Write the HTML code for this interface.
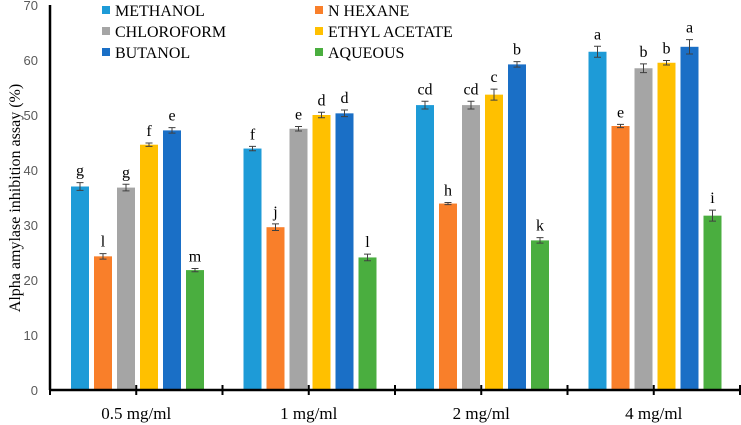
<!DOCTYPE html>
<html><head><meta charset="utf-8"><style>
body{margin:0;background:#fff}
svg{display:block}
.tk{font-family:"Liberation Sans",sans-serif;font-size:13px;fill:#595959}
.sr{font-family:"Liberation Serif",serif;fill:#000}
</style></head><body>
<svg id="c" width="741" height="425" xmlns="http://www.w3.org/2000/svg"></svg>
<script>
const categories=["0.5 mg/ml","1 mg/ml","2 mg/ml","4 mg/ml"];
const seriesNames=["METHANOL","N HEXANE","CHLOROFORM","ETHYL ACETATE","BUTANOL","AQUEOUS"];
const colors=["#1E9BD7","#F97F2A","#A5A5A5","#FFC000","#1A6FC6","#4AAE3F"];
const methanol=[37,43.9,51.8,61.5];
const hexane=[24.3,29.6,33.9,48];
const chloroform=[36.8,47.5,51.8,58.5];
const ethyl=[44.6,50,53.7,59.5];
const butanol=[47.2,50.3,59.2,62.4];
const aqueous=[21.8,24.1,27.2,31.7];
const errors=[[0.7,0.4,0.7,1.0],[0.5,0.6,0.2,0.3],[0.6,0.4,0.7,0.8],[0.3,0.5,1.0,0.4],[0.5,0.6,0.5,1.3],[0.3,0.6,0.5,1.0]];
const letters=[["g","f","cd","a"],["l","j","h","e"],["g","e","cd","b"],["f","d","c","b"],["e","d","b","a"],["m","l","k","i"]];
const yTicks=[0,10,20,30,40,50,60,70];
const series=[methanol,hexane,chloroform,ethyl,butanol,aqueous];
const svg=document.getElementById('c');const NS="http://www.w3.org/2000/svg";
function mk(t,a,p){const e=document.createElementNS(NS,t);for(const k in a)e.setAttribute(k,a[k]);(p||svg).appendChild(e);return e;}
const x0=50,pitch=172.5,y0=390,ppu=5.5;
const y=v=>y0-v*ppu;
const bx=(c,s)=>x0+c*pitch+21+s*23;
yTicks.forEach(t=>{const e=mk('text',{x:38,y:y(t)+5,'text-anchor':'end',class:'tk'});e.textContent=t;

});
series.forEach((arr,s)=>{arr.forEach((v,c)=>{
const r=mk('rect',{x:bx(c,s),y:y(v),width:18,height:v*ppu,fill:colors[s]});


const cx=bx(c,s)+9,e=errors[s][c];
const g=mk('path',{d:`M${cx} ${y(v+e)}V${y(v-e)}M${cx-3.5} ${y(v+e)}h7M${cx-3.5} ${y(v-e)}h7`,stroke:'#404040','stroke-width':1,fill:'none'});


const l=mk('text',{x:cx,y:y(v+e)-7,'text-anchor':'middle',class:'sr','font-size':16,'font-family':'Liberation Serif, serif'});l.textContent=letters[s][c];


});});
const ax=mk('path',{d:`M${x0} 5V${y0}M${x0} ${y0}H741`,stroke:'#000','stroke-width':2.5,fill:'none'});


for(let i=0;i<=8;i++){const t=mk('line',{x1:x0+i*pitch/2,x2:x0+i*pitch/2,y1:y0-5,y2:y0+5,stroke:'#000','stroke-width':2});

}
categories.forEach((c,i)=>{const e=mk('text',{x:x0+(i+0.5)*pitch,y:419,'text-anchor':'middle',class:'sr','font-size':17,'font-family':'Liberation Serif, serif'});e.textContent=c;

});
const yt=mk('text',{transform:'translate(20,198) rotate(-90)','text-anchor':'middle',class:'sr','font-size':16,'font-family':'Liberation Serif, serif'});yt.textContent='Alpha amylase inhibition assay (%)';


seriesNames.forEach((n,i)=>{const lx=i%2?315:102,ly=10+Math.floor(i/2)*21;
const g=mk('g',{});


mk('rect',{x:lx,y:ly-4,width:8,height:8,fill:colors[i]},g);
const t=mk('text',{x:lx+13,y:ly+6,class:'sr','font-size':16,'font-family':'Liberation Serif, serif'},g);t.textContent=n;});
</script>
</body></html>
